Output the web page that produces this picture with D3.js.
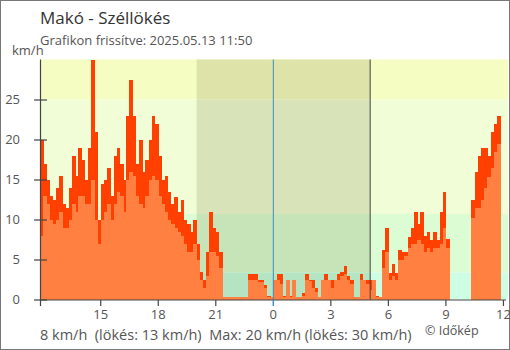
<!DOCTYPE html>
<html><head><meta charset="utf-8">
<script src="https://cdn.jsdelivr.net/npm/d3@7"></script>
<style>
body{margin:0;background:#fff}
svg text{font-family:"Open Sans",sans-serif}
</style>
</head><body>
<svg id="c" width="510" height="350"></svg>
<script>
// 10-minute samples starting 2025-05-12 11:50
const gust = [
 20,17,15,13,12.5,14,15.5,12,11.5,14,
 18,15.5,19,17.5,15,19,30,21,10,14.5,
 15,16.5,13,18,19,17,15,23,27.5,23,
 17,20,16,17.5,20,23,22,18,15,15.5,
 13.5,12,12.8,11,12.5,10,9.5,8.5,10,7,
 3.5,2.5,6,11,9,8.4,6,0.3,0.3,0.3,
 0.3,0.3,0.3,0.3,0.3,3.2,3.2,3.2,2.5,2.5,
 1.8,0.4,0.3,2.5,3.2,3.2,0.4,2.5,0.4,2.5,
 0.3,0.3,0.8,3.2,2.5,2.5,1.5,0.3,2.5,3.2,
 2.5,2.5,2.5,3.2,3.5,4.2,3,2.5,0.3,0.3,
 3.2,2.5,2.5,2.5,2.5,0.4,0.3,6.2,9,3.3,
 4.4,3.3,6.2,6,6,7.8,9,11,9.5,11,
 8,8.4,7.5,8.4,7.5,11,13.5,7.6,null,null,
 null,null,null,null,null,12.4,16,18,19,19,
 18,21,22,23
];
const avg = [
 8,13,12,10,9.5,10,11,9,9,10,
 12,11,13,13,12,12,15,10,7,10,
 11,12,10,12,13.5,13,11,15,16,15.5,
 13,12,11.5,13,15,15.5,15,13,12,11,
 10,9.5,9,8.5,8,7,6,6,7,5,
 2.5,1.5,3,6,6,5.5,4,0.3,0.3,0.3,
 0.3,0.3,0.3,0.3,0.3,2.5,2.4,2.5,2.2,2.2,
 1.5,0.3,0.3,2.5,2.5,2,0.3,2.5,0.3,2.5,
 0.3,0.3,0.5,2.5,2.3,1.5,1,0.3,2.5,2.5,
 2.5,1.5,2.5,2.5,3,3.2,2.5,2,0.3,0.3,
 2.5,2.5,2,1.2,2.5,0.3,0.3,4,6,2.5,
 3,2.5,5,5,5.5,6.5,7,7,7.5,7,
 6,6.5,6,6.5,6.5,7,9,6.5,null,null,
 null,null,null,null,null,10.2,11.5,11.5,12.4,14,
 15.3,16.5,18.5,19.4
];
const xTickHours = [15,18,21,0,3,6,9,12];
const yTicks = [0,5,10,15,20,25];
const bandEdges = [0,3.4,10.7,25,30];
const dayColors = ["#cdfde3","#dcfdd3","#f0fdd6","#f5fdc3"];
const nightColors = ["#b5e4c3","#c6e4b8","#d8e3b9","#dde3a9"];
const titleText = "Makó - Széllökés";
const subtitleText = "Grafikon frissítve: 2025.05.13 11:50";
const footerText = "8 km/h  (lökés: 13 km/h)  Max: 20 km/h (lökés: 30 km/h)";
const creditText = "© Időkép";

const start = new Date(2025,4,12,11,50);
const stepMs = 10*60*1000;
const times = gust.map((_,i)=>new Date(+start + i*stepMs));
const sunset = new Date(2025,4,12,20,0);
const sunrise = new Date(2025,4,13,5,3);
const midnight = new Date(2025,4,13,0,0);

const svg = d3.select("#c");
const L=40, R=506, T=59.5, B=299.5;
const x = d3.scaleTime().domain([start, new Date(2025,4,13,12,8)]).range([L,R]);
const y = d3.scaleLinear().domain([0,30]).range([B,T]);

// outer frame
svg.append("rect").attr("x",0.5).attr("y",0.5).attr("width",509).attr("height",349)
  .attr("fill","#fff").attr("stroke","#777");

// background bands
const bands = d3.range(4).map(k=>({lo:bandEdges[k],hi:bandEdges[k+1],day:dayColors[k],night:nightColors[k]}));
svg.append("g").selectAll("rect").data(bands).join("rect")
  .attr("x",L).attr("width",508-L)
  .attr("y",d=>y(d.hi)).attr("height",d=>y(d.lo)-y(d.hi))
  .attr("fill",d=>d.day);
svg.append("g").selectAll("rect").data(bands).join("rect")
  .attr("x",x(sunset)).attr("width",x(sunrise)-x(sunset))
  .attr("y",d=>y(d.hi)).attr("height",d=>y(d.lo)-y(d.hi))
  .attr("fill",d=>d.night);

// data bars
const idx = d3.range(gust.length);
function bars(arr,color){
  svg.append("g").attr("shape-rendering","crispEdges").selectAll("rect")
    .data(idx.filter(i=>arr[i]!=null)).join("rect")
    .attr("x",i=>x(times[i]))
    .attr("width",i=>x(new Date(+times[i]+stepMs))-x(times[i])+0.4)
    .attr("y",i=>y(arr[i]))
    .attr("height",i=>y(0)-y(arr[i]))
    .attr("fill",color);
}
bars(gust,"#ff4000");
bars(avg,"#ff8040");

// midnight and sunrise lines
svg.append("line").attr("x1",x(midnight)).attr("x2",x(midnight))
  .attr("y1",T).attr("y2",306).attr("stroke","#3b8fc4").attr("stroke-width",1);
svg.append("line").attr("x1",x(sunrise)).attr("x2",x(sunrise))
  .attr("y1",T).attr("y2",B).attr("stroke","#444").attr("stroke-width",1);

// axes
const ax = svg.append("g").attr("stroke","#444").attr("stroke-width",1.2);
ax.append("line").attr("x1",40.5).attr("x2",40.5).attr("y1",T).attr("y2",306);
ax.append("line").attr("x1",40).attr("x2",506).attr("y1",300).attr("y2",300);
ax.selectAll(".yt").data(yTicks).join("line")
  .attr("x1",34).attr("x2",47).attr("y1",d=>Math.round(y(d))).attr("y2",d=>Math.round(y(d)));
const xTickDates = xTickHours.map(h=>h>=12 && h!==12 ? new Date(2025,4,12,h) : new Date(2025,4,13,h));
ax.selectAll(".xt").data(xTickDates).join("line")
  .attr("x1",d=>x(d)).attr("x2",d=>x(d)).attr("y1",300).attr("y2",306)
  .attr("stroke",d=>+d===+midnight?"#3b8fc4":"#444");

svg.append("g").selectAll("text").data(yTicks).join("text")
  .attr("x",20).attr("y",d=>y(d)+4.5).attr("text-anchor","end")
  .attr("font-size",13).attr("fill","#555").text(d=>d);
svg.append("g").selectAll("text").data(xTickDates).join("text")
  .attr("x",d=>x(d)).attr("y",319).attr("text-anchor","middle")
  .attr("font-size",13).attr("fill","#555").text((d,i)=>xTickHours[i]);

svg.append("text").attr("x",12).attr("y",55).attr("font-size",13).attr("fill","#555").text("km/h");
svg.append("text").attr("x",40).attr("y",24).attr("font-size",17).attr("fill","#333").text(titleText);
svg.append("text").attr("x",40).attr("y",45).attr("font-size",13).attr("fill","#555").text(subtitleText);
svg.append("text").attr("x",40).attr("y",340).attr("font-size",14.5).attr("fill","#555")
  .attr("xml:space","preserve").style("white-space","pre").text(footerText);
svg.append("text").attr("x",425).attr("y",335).attr("font-size",12.5).attr("fill","#555").text(creditText);
</script>
</body></html>
